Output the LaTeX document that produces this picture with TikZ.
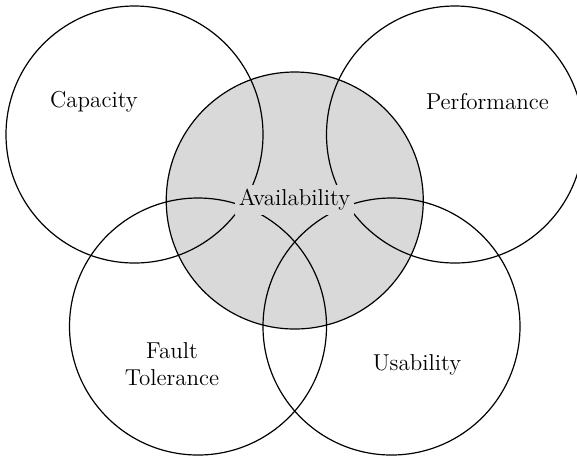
\documentclass[tikz,border=0pt]{standalone}
\usetikzlibrary{positioning}
\definecolor{availgray}{RGB}{217,217,217}
\begin{document}
\begin{tikzpicture}[x=0.5pt, y=-0.5pt, ring/.style = {draw, circle, line width=0.6pt, minimum size=128.5pt, inner sep=0pt}, lab/.style = {font=\fontsize{11.5}{13.8}\selectfont, align=center}]
            \clip (0,0) rectangle (577,457);
            \node[ring, fill=availgray] (avail) at (294.75,200.5) {};
            \node[ring] (cap) at (134.5,134.5) {};
            \node[ring] (perf) at (455,134.5) {};
            \node[ring] (fault) at (198,326.5) {};
            \node[ring] (usab) at (391.5,326.5) {};

            \node[lab] (capl) at (94,102) {Capacity};
            \node[lab] (perfl) at (487.5,102) {Performance};
            \node[lab] (faultl) at (172,364) {Fault\\Tolerance};
            \node[lab] (usabl) at (417,365) {Usability};
            \node[lab, fill=availgray, inner sep=2pt] (availl) at (294.5,200) {Availability};

        \end{tikzpicture}
\end{document}
